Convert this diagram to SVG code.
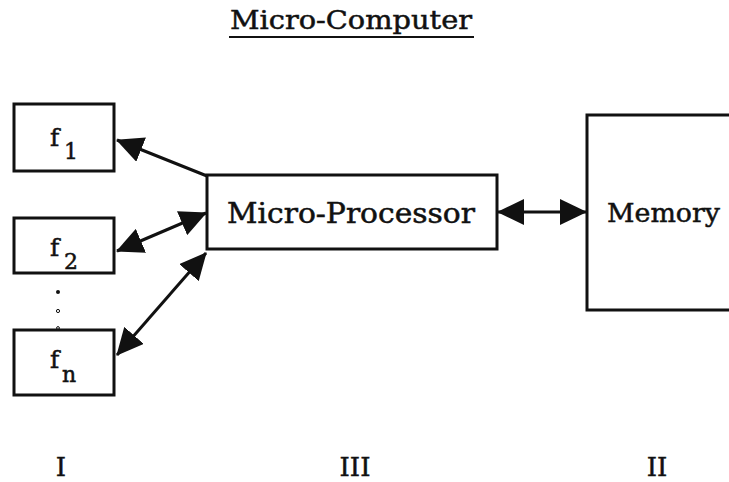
<svg xmlns="http://www.w3.org/2000/svg" width="729" height="482" viewBox="0 0 729 482">
  <style>
    .box { fill: #fff; stroke: #111; stroke-width: 3; }
    .wire { stroke: #111; stroke-width: 3; fill: none; }
    .lbl { font-family: "DejaVu Serif", "Liberation Serif", serif; fill: #111; stroke: #111; stroke-width: 0.5; }
  </style>
  <defs>
    <marker id="head" viewBox="0 0 27 26" refX="26" refY="13" markerWidth="27" markerHeight="26" markerUnits="userSpaceOnUse" orient="auto-start-reverse">
      <path d="M0,0 L27,13 L0,26 z" fill="#111"/>
    </marker>
  </defs>
  <rect width="729" height="482" fill="#fff"/>

  <!-- title -->
  <g id="title">
    <text class="lbl" x="230" y="29" font-size="26" textLength="242" lengthAdjust="spacingAndGlyphs">Micro-Computer</text>
    <line x1="229" y1="37" x2="474" y2="37" stroke="#111" stroke-width="2"/>
  </g>

  <!-- connectors -->
  <g id="connectors">
    <line class="wire" x1="207" y1="176" x2="117" y2="140" marker-end="url(#head)"/>
    <line class="wire" x1="117" y1="251" x2="206" y2="213" marker-start="url(#head)" marker-end="url(#head)"/>
    <line class="wire" x1="117" y1="355" x2="206" y2="253" marker-start="url(#head)" marker-end="url(#head)"/>
    <line class="wire" x1="498" y1="212" x2="586" y2="212" marker-start="url(#head)" marker-end="url(#head)"/>
  </g>

  <!-- function blocks -->
  <g id="f1">
    <rect class="box" x="14" y="104" width="100" height="67"/>
    <text class="lbl" x="50" y="146" font-size="25">f</text>
    <text class="lbl" x="64" y="159" font-size="22">1</text>
  </g>
  <g id="f2">
    <rect class="box" x="14" y="218" width="100" height="55"/>
    <text class="lbl" x="50" y="256" font-size="25">f</text>
    <text class="lbl" x="64" y="269" font-size="22">2</text>
  </g>
  <g id="ellipsis">
    <circle cx="58" cy="292" r="2" fill="#111"/>
    <circle cx="58" cy="311" r="1.6" fill="none" stroke="#111" stroke-width="1"/>
    <circle cx="58" cy="328" r="1.4" fill="none" stroke="#111" stroke-width="1"/>
  </g>
  <g id="fn">
    <rect class="box" x="14" y="330" width="100" height="65"/>
    <text class="lbl" x="50" y="368" font-size="25">f</text>
    <text class="lbl" x="62" y="382" font-size="22">n</text>
  </g>

  <!-- processor -->
  <g id="processor">
    <rect class="box" x="207" y="175" width="290" height="74"/>
    <text class="lbl" x="227" y="223" font-size="27" textLength="248" lengthAdjust="spacingAndGlyphs">Micro-Processor</text>
  </g>

  <!-- memory -->
  <g id="memory">
    <rect class="box" x="587" y="115" width="160" height="195"/>
    <text class="lbl" x="607" y="222" font-size="26" textLength="113" lengthAdjust="spacingAndGlyphs">Memory</text>
  </g>

  <!-- section numerals -->
  <g id="numerals">
    <text class="lbl" x="61" y="476" font-size="26" text-anchor="middle">I</text>
    <text class="lbl" x="355" y="476" font-size="26" text-anchor="middle">III</text>
    <text class="lbl" x="657" y="476" font-size="26" text-anchor="middle">II</text>
  </g>
</svg>
